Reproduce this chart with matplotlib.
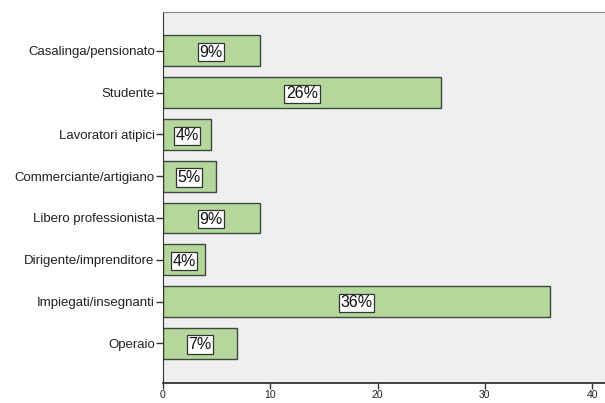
import matplotlib.pyplot as plt
import numpy as np

categories = [
    "Casalinga/pensionato",
    "Studente",
    "Lavoratori atipici",
    "Commerciante/artigiano",
    "Libero professionista",
    "Dirigente/imprenditore",
    "Impiegati/insegnanti",
    "Operaio",
]
values = [9.0, 25.9, 4.5, 4.9, 9.0, 3.9, 36.1, 6.9]
labels = ["9%", "26%", "4%", "5%", "9%", "4%", "36%", "7%"]
xticks = [0, 10, 20, 30, 40]


def main() -> None:
    plt.rcParams["font.family"] = ["Liberation Sans", "DejaVu Sans"]
    fig = plt.figure(figsize=(6.05, 4.03), dpi=100)
    ax = fig.add_axes([0.2694, 0.0496, 0.7306, 0.9206])
    ax.set_facecolor("#efeff1")

    y = np.arange(len(categories))
    ax.barh(y, values, height=0.74, color="#b6d79c", edgecolor="#3c4a3c", linewidth=1.0)

    for yi, v, lab in zip(y, values, labels):
        ax.text(v / 2, yi + 0.03, lab, ha="center", va="center", fontsize=11.5, color="#111111",
                bbox=dict(boxstyle="square,pad=0.1", facecolor="white", edgecolor="#333333", linewidth=0.9))

    ax.set_ylim(7.95, -0.93)
    ax.set_xlim(0, 41.2)
    ax.set_yticks(y)
    ax.set_yticklabels(categories, fontsize=9.5, color="#222222")
    ax.set_xticks(xticks)
    ax.set_xticklabels([str(t) for t in xticks], fontsize=7.5, color="#222222")
    ax.tick_params(axis="both", length=5, width=1.0, color="#333333")
    ax.tick_params(axis="y", pad=1)
    ax.tick_params(axis="x", length=4, pad=1)

    ax.spines["right"].set_visible(False)
    ax.spines["top"].set_color("#888888")
    ax.spines["left"].set_color("#333333")
    ax.spines["bottom"].set_color("#333333")
    ax.spines["bottom"].set_linewidth(1.3)

    fig.savefig("out.png", dpi=100)


if __name__ == "__main__":
    main()
